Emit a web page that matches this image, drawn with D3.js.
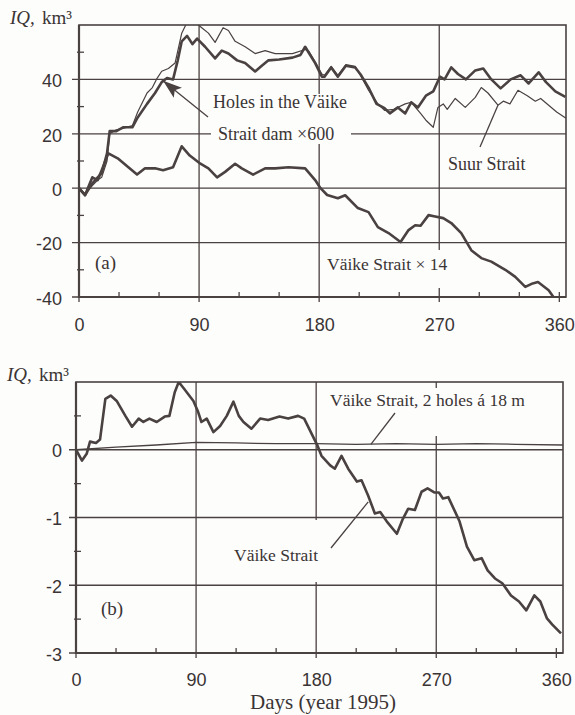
<!DOCTYPE html>
<html>
<head>
<meta charset="utf-8">
<script src="https://cdn.jsdelivr.net/npm/d3@7"></script>
<style>
  body { margin: 0; background: #fdfdfc; }
</style>
</head>
<body>
<svg id="fig" width="575" height="715"></svg>
<script>
// ---- data: [day, IQ] ----
// panel (a)
const holesA = [[0,0],[4.5,-2.5],[10,1.8],[14,4],[17,5.5],[21,12.8],[23,21],[28,21],[33,22.4],[40,22.4],[44,26],[51,31],[57,35],[62,39],[66,40.5],[70.5,40],[74,47],[77,54],[81,56],[85,53],[88.5,55],[94.5,52],[102,47.7],[107,50.6],[112,49.5],[118.5,47],[124.5,46],[132,42.9],[137,45],[142,47],[150,47.3],[160,48],[166,49],[169.5,52],[172,50],[177,46],[182,41],[184,41],[189,44.4],[194,41],[200,45],[207,44.4],[211.5,41.5],[217,37],[223,31],[229,29.4],[233,27.5],[239,29.7],[244.5,27.5],[249,31.6],[254,29.7],[260,34],[265.5,35.6],[270.5,41],[274,40],[279,44.4],[284,42],[290,40],[297,43.3],[303,44],[309,40],[316,36.7],[323.5,40],[331,41.5],[337,38.5],[344.5,42.6],[350,39],[357,35.6],[364.5,33.6]]
const suurA = [[0,0],[4.5,-2],[10,1],[14,3],[17,4],[21,10],[23,20],[28,21.5],[33,22],[40,23],[44,28],[51,35],[55,37],[58.5,40.4],[62,43],[67,44],[72,46],[77,57],[81,61],[84,63],[87,61],[92,59],[97,57],[102,53.6],[108,59],[112,58],[117,54],[124.5,52],[132,49.5],[139.5,50.6],[147,49.5],[160,49.5],[169.5,51],[172,50.5],[177,46.5],[182,42],[184,41.5],[189,44.8],[194,41.5],[200,45.4],[207,44.8],[211.5,41],[217,36],[224,31],[229,28.6],[236,29],[244.5,31],[249,31.6],[256,27.5],[260,25],[265.5,22.4],[269,29.7],[273,31],[276,29],[282,33],[289.5,29.7],[297,33.4],[301.5,37],[306.5,35],[314,30.5],[318,32],[323,31],[329,36],[336,34],[342,32],[346,33],[352,30.5],[358,28],[365,25.7]]
const vaikeA = [[0,0],[4.5,-2.6],[10,4],[14,3],[17,6.6],[22,12.8],[29,11],[37,7.7],[43.5,5],[49.5,7.3],[57,7.3],[63,6.6],[70.5,7.7],[77,15.4],[83,12],[91,9],[97,7.3],[103.5,4],[109.5,6],[117,9],[122,7.3],[130.5,5],[139.5,7.3],[147,7.3],[157,7.7],[169.5,7.3],[177,3],[181,0],[186,-2.5],[194,-3.7],[199.5,-2.6],[209,-7.3],[217,-8.8],[224,-14.3],[232,-16.5],[241,-19.8],[247,-15.4],[252,-13.6],[256,-13.8],[262,-9.9],[266,-10.3],[273,-11],[279,-12.8],[286.5,-16.5],[294,-22.8],[301.5,-25.7],[309,-27],[319.5,-30],[327,-32.6],[334.5,-36.3],[340,-35],[344,-34.5],[352,-37.5],[357,-41]]
// panel (b)
const vaikeB = [[0,0],[4.5,-0.16],[8,-0.06],[10.5,0.12],[15,0.1],[18,0.15],[22,0.75],[26,0.8],[30.5,0.72],[37,0.5],[42,0.34],[47,0.46],[50.5,0.41],[55,0.46],[60.5,0.41],[66.5,0.49],[70,0.5],[74,0.85],[77,1.0],[81,0.9],[88,0.72],[91.5,0.56],[94,0.41],[98,0.46],[103,0.26],[108,0.35],[113,0.5],[118,0.71],[122,0.5],[125.5,0.41],[131.5,0.31],[138,0.46],[144,0.44],[152.5,0.49],[159,0.46],[166.5,0.5],[171,0.46],[176,0.26],[181,0.06],[184,-0.09],[190.5,-0.23],[194,-0.28],[199,-0.09],[204,-0.28],[210.5,-0.47],[214,-0.45],[219,-0.68],[224,-0.94],[228,-0.92],[233,-1.06],[240.5,-1.24],[245,-1.02],[249,-0.87],[254,-0.89],[259,-0.62],[263.5,-0.57],[268.5,-0.63],[272,-0.63],[275,-0.72],[279,-0.7],[284,-0.91],[287.5,-1.06],[293,-1.43],[298.5,-1.63],[304,-1.6],[308.5,-1.78],[314,-1.9],[319.5,-1.97],[326,-2.15],[332,-2.24],[337.5,-2.37],[343.5,-2.15],[348,-2.24],[353,-2.49],[357,-2.58],[363.5,-2.71]]
const holesB = [[0,0],[30,0.04],[60,0.07],[90,0.11],[120,0.1],[150,0.09],[180,0.09],[210,0.08],[240,0.09],[270,0.08],[300,0.09],[330,0.08],[365,0.07]]

// ticks
const xLabels = [0, 90, 180, 270, 360]
const xGrid = [90, 180, 270]
const xMinor = [30, 60, 120, 150, 210, 240, 300, 330]
const yLabelsA = [40, 20, 0, -20, -40]
const yMinorA = [50, 30, 10, -10, -30]
const yLabelsB = [0, -1, -2, -3]
const yMinorB = [0.5, -0.5, -1.5, -2.5]

const ink = '#4a4141'
const textInk = '#3a3434'
const paper = '#fdfdfc'
const serif = 'Liberation Serif, Times New Roman, serif'
const sans = 'Liberation Sans, Arial, sans-serif'

const svg = d3.select('#fig')
svg.append('rect').attr('width', 575).attr('height', 715).attr('fill', paper)

function drawPanel (p) {
  const x = d3.scaleLinear().domain([0, 365]).range([p.left, p.right])
  const y = d3.scaleLinear().domain(p.yDomain).range([p.bottom, p.top])
  const g = svg.append('g')

  // horizontal grid / major ticks
  g.selectAll('.hg').data(p.yLabels).join('line')
    .attr('x1', p.left - 7).attr('x2', p.right)
    .attr('y1', d => y(d)).attr('y2', d => y(d))
    .attr('stroke', ink).attr('stroke-width', 1.3)
  // vertical grid
  g.selectAll('.vg').data(xGrid).join('line')
    .attr('x1', d => x(d)).attr('x2', d => x(d))
    .attr('y1', p.top).attr('y2', p.bottom + 5)
    .attr('stroke', ink).attr('stroke-width', 1.3)
  // minor ticks
  g.selectAll('.ym').data(p.yMinor).join('line')
    .attr('x1', p.left - 2).attr('x2', p.left + 5)
    .attr('y1', d => y(d)).attr('y2', d => y(d))
    .attr('stroke', ink).attr('stroke-width', 1.3)
  g.selectAll('.xm').data(xMinor).join('line')
    .attr('x1', d => x(d)).attr('x2', d => x(d))
    .attr('y1', p.bottom - 5).attr('y2', p.bottom + 1)
    .attr('stroke', ink).attr('stroke-width', 1.3)
  g.selectAll('.xe').data([0, 360]).join('line')
    .attr('x1', d => x(d)).attr('x2', d => x(d))
    .attr('y1', d => d ? p.bottom - 5 : p.bottom).attr('y2', p.bottom + 5)
    .attr('stroke', ink).attr('stroke-width', 1.3)

  // label boxes hide the grid behind the text
  p.labels.forEach(l => {
    if (l.box) {
      g.append('rect').attr('x', l.box[0]).attr('y', l.box[1])
        .attr('width', l.box[2]).attr('height', l.box[3]).attr('fill', paper)
    }
  })

  // frame
  g.append('rect').attr('x', p.left).attr('y', p.top)
    .attr('width', p.right - p.left).attr('height', p.bottom - p.top)
    .attr('fill', 'none').attr('stroke', ink).attr('stroke-width', 1.6)
  g.append('path')
    .attr('d', `M${p.left},${p.top}V${p.bottom}H${p.right}`)
    .attr('fill', 'none').attr('stroke', ink).attr('stroke-width', 2.2)

  // axes labels (plain hyphen minus, as printed)
  g.append('g').attr('transform', `translate(${p.left},0)`)
    .call(d3.axisLeft(y).tickValues(p.yLabels).tickSize(0)
      .tickPadding(p.left - 62).tickFormat(d => String(d)))
    .call(a => a.select('.domain').remove())
    .call(a => a.selectAll('text').attr('dy', '0.4em')
      .attr('font-family', sans).attr('font-size', 18).attr('fill', textInk))
  g.append('g').attr('transform', `translate(0,${p.bottom})`)
    .call(d3.axisBottom(x).tickValues(xLabels).tickSize(0)
      .tickPadding(p.xPad).tickFormat(d => String(d)))
    .call(a => a.select('.domain').remove())
    .call(a => a.selectAll('text')
      .attr('font-family', sans).attr('font-size', 18).attr('fill', textInk))

  // series
  svg.append('clipPath').attr('id', 'clip' + p.id)
    .append('rect').attr('x', p.left).attr('y', p.top)
    .attr('width', p.right - p.left).attr('height', p.bottom - p.top)
  const line = d3.line().x(d => x(d[0])).y(d => y(d[1]))
  g.selectAll('.series').data(p.series).join('path')
    .attr('clip-path', `url(#clip${p.id})`)
    .attr('d', d => line(d.values))
    .attr('fill', 'none').attr('stroke', ink)
    .attr('stroke-width', d => d.w).attr('stroke-linejoin', 'round')

  // text labels
  p.labels.forEach(l => {
    const t = g.append('text').attr('x', l.x).attr('y', l.y)
      .attr('font-family', serif).attr('font-size', l.size || 17.5)
      .attr('fill', textInk).text(l.text)
    if (l.len) t.attr('textLength', l.len).attr('lengthAdjust', 'spacingAndGlyphs')
  })
  // pointers
  p.pointers.forEach(q => {
    const tx = x(q.at[0]), ty = y(q.at[1])
    g.append('line').attr('x1', q.from[0]).attr('y1', q.from[1])
      .attr('x2', tx).attr('y2', ty)
      .attr('stroke', ink).attr('stroke-width', 1.3)
    if (q.arrow) {
      const dx = tx - q.from[0], dy = ty - q.from[1]
      const len = Math.hypot(dx, dy), ux = dx / len, uy = dy / len
      const bx = tx - 19 * ux, by = ty - 19 * uy
      g.append('path')
        .attr('d', `M${tx},${ty}L${bx - 6.5 * uy},${by + 6.5 * ux}L${bx + 4 * ux},${by + 4 * uy}L${bx + 6.5 * uy},${by - 6.5 * ux}Z`)
        .attr('fill', ink)
    }
  })

  // y-axis title
  g.append('text').attr('x', p.left - 69).attr('y', p.top - 1)
    .attr('font-family', serif).attr('font-size', 19).attr('font-style', 'italic')
    .attr('fill', textInk).text('IQ,')
  g.append('text').attr('x', p.left - 37).attr('y', p.top - 1)
    .attr('font-family', serif).attr('font-size', 19)
    .attr('fill', textInk).text('km³')
}

drawPanel({
  id: 'a', left: 79, right: 566, top: 25, bottom: 297, xPad: 21,
  yDomain: [-40, 60], yLabels: yLabelsA, yMinor: yMinorA,
  series: [
    { values: suurA, w: 1.2 },
    { values: holesA, w: 2.6 },
    { values: vaikeA, w: 2.6 }
  ],
  labels: [
    { text: 'Holes in the Väike', x: 213, y: 108, size: 18.5, len: 134, box: [211, 94, 140, 50] },
    { text: 'Strait dam ×600', x: 218, y: 139.5, size: 18 },
    { text: 'Suur Strait', x: 448, y: 170, size: 18, box: [446, 152, 86, 24] },
    { text: 'Väike Strait × 14', x: 327, y: 270, box: [325, 250, 126, 38] },
    { text: '(a)', x: 95, y: 269, size: 19 }
  ],
  pointers: [
    { from: [208, 117], at: [63, 39.5], arrow: true },
    { from: [480, 147], at: [314, 30.5] }
  ]
})

drawPanel({
  id: 'b', left: 76, right: 563, top: 382, bottom: 653, xPad: 20.5,
  yDomain: [-3, 1], yLabels: yLabelsB, yMinor: yMinorB,
  series: [
    { values: holesB, w: 1.3 },
    { values: vaikeB, w: 2.6 }
  ],
  labels: [
    { text: 'Väike Strait, 2 holes á 18 m', x: 330, y: 406, box: [328, 388, 204, 48] },
    { text: 'Väike Strait', x: 234, y: 561, box: [229, 520, 91, 62] },
    { text: '(b)', x: 101, y: 615, size: 19 }
  ],
  pointers: [
    { from: [395, 413], at: [221, 0.08] },
    { from: [331, 548], at: [219, -0.77] }
  ]
})

svg.append('text').attr('x', 323).attr('y', 709).attr('text-anchor', 'middle')
  .attr('font-family', serif).attr('font-size', 21).attr('fill', textInk)
  .text('Days (year 1995)')
</script>
</body>
</html>
